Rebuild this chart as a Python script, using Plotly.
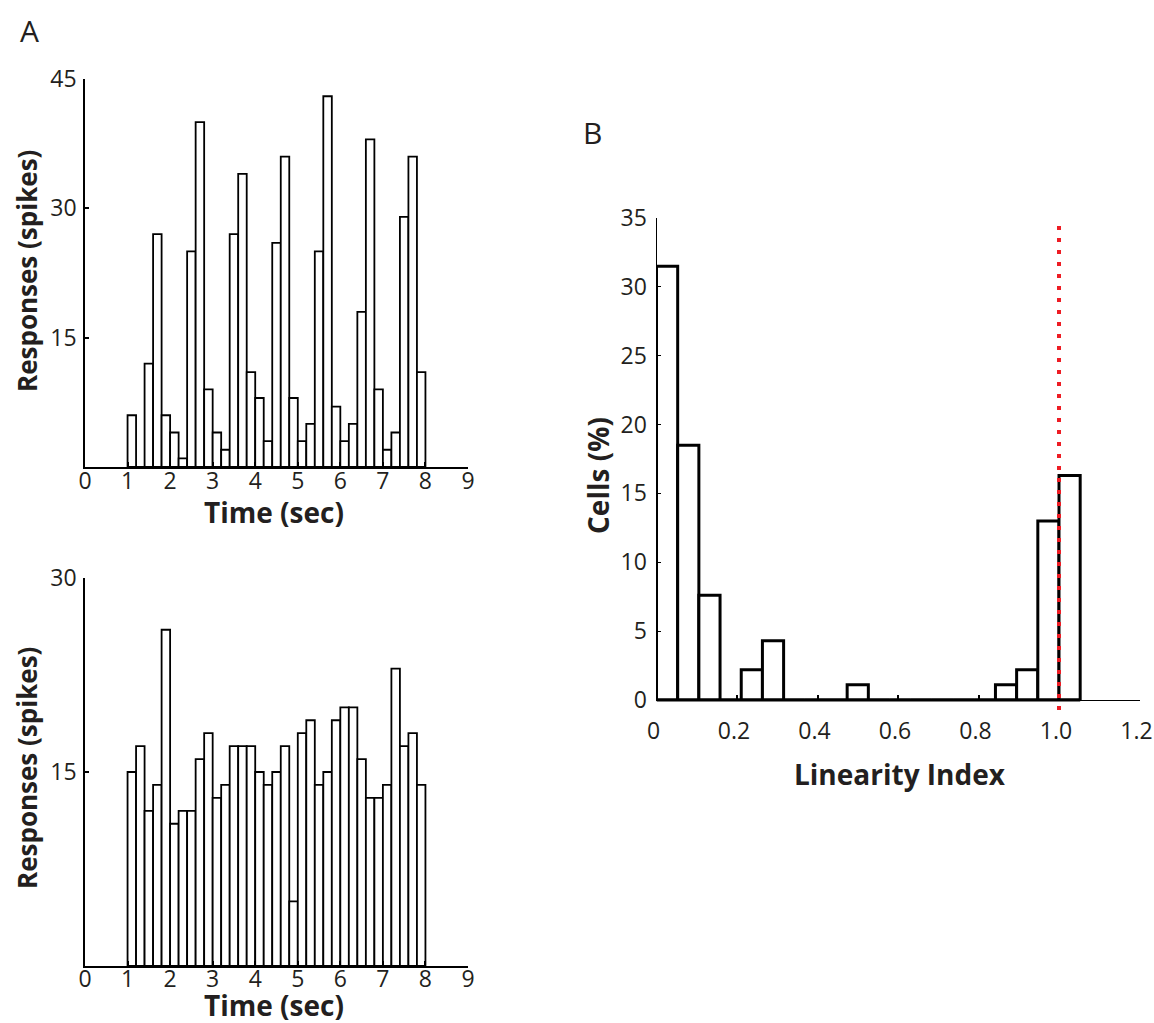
import numpy as np
import plotly.graph_objects as go

# ---------------- data ----------------
# Panel A: spike counts in 0.2-s bins from 1 s to 8 s
time_bin_start = 1.0
time_bin_width = 0.2
counts_top = [6, 0, 12, 27, 6, 4, 1, 25, 40, 9,
              4, 2, 27, 34, 11, 8, 3, 26, 36, 8,
              3, 5, 25, 43, 7, 3, 5, 18, 38, 9,
              2, 4, 29, 36, 11]
counts_bottom = [15, 17, 12, 14, 26, 11, 12, 12, 16, 18,
                 13, 14, 17, 17, 17, 15, 14, 15, 17, 5,
                 18, 19, 14, 15, 19, 20, 20, 16, 13, 13,
                 14, 23, 17, 18, 14]
time_ticks = [0, 1, 2, 3, 4, 5, 6, 7, 8, 9]
top_yticks = [15, 30, 45]
bottom_yticks = [15, 30]

# Panel B: linearity index histogram (20 bins of width 1/19)
li_n_bins = 20
li_bin_width = 1.0 / 19
cells_pct = [31.5, 18.5, 7.6, 0, 2.2, 4.3, 0, 0, 0, 1.1,
             0, 0, 0, 0, 0, 0, 1.1, 2.2, 13.0, 16.3]
li_ticks = [0, 0.2, 0.4, 0.6, 0.8, 1.0, 1.2]
li_ticktext = ["0", "0.2", "0.4", "0.6", "0.8", "1.0", "1.2"]
cells_ticks = [0, 5, 10, 15, 20, 25, 30, 35]
ref_line_x = 1.0

# ---------------- geometry ----------------
W, H = 1154, 1023
TXT = "#231f20"
FONT = "Open Sans"


def xdom(a, b):
    return [a / W, b / W]


def ydom(top, bottom):
    return [1 - bottom / H, 1 - top / H]


t_edges = time_bin_start + time_bin_width * np.arange(len(counts_top) + 1)
t_centers = (t_edges[:-1] + t_edges[1:]) / 2
li_edges = li_bin_width * np.arange(li_n_bins + 1)
li_centers = (li_edges[:-1] + li_edges[1:]) / 2

fig = go.Figure()

bar_style = dict(color="white", line=dict(color="black", width=1.8))
fig.add_trace(go.Bar(x=t_centers, y=counts_top, width=time_bin_width,
                     marker=bar_style, xaxis="x", yaxis="y",
                     cliponaxis=False, showlegend=False, hoverinfo="skip"))
fig.add_trace(go.Bar(x=t_centers, y=counts_bottom, width=time_bin_width,
                     marker=bar_style, xaxis="x2", yaxis="y2",
                     cliponaxis=False, showlegend=False, hoverinfo="skip"))
fig.add_trace(go.Bar(x=li_centers, y=cells_pct, width=li_bin_width,
                     marker=dict(color="white", line=dict(color="black", width=3)),
                     xaxis="x3", yaxis="y3",
                     cliponaxis=False, showlegend=False, hoverinfo="skip"))

# overlay subplot (same scale as panel B, extends a bit below the axis)
b_top, b_bot = 218, 700
px_per_unit = (b_bot - b_top) / cells_ticks[-1]
ov_bot = 710
ov_min = -(ov_bot - b_bot) / px_per_unit
fig.add_trace(go.Scatter(x=[li_edges[0], li_edges[-1]], y=[0, 0], mode="lines",
                         line=dict(color="black", width=3),
                         xaxis="x4", yaxis="y4", showlegend=False, hoverinfo="skip"))
fig.add_trace(go.Scatter(x=[ref_line_x, ref_line_x], y=[ov_min, cells_ticks[-1]],
                         mode="lines",
                         line=dict(color="#ed1c24", width=4, dash="4px,8px"),
                         xaxis="x4", yaxis="y4", showlegend=False, hoverinfo="skip"))

tickfont = dict(family=FONT, size=23, color=TXT)
common_x = dict(showline=True, linecolor="black", ticks="inside", ticklen=5,
                tickcolor="black", showgrid=False, zeroline=False, tickfont=tickfont,
                automargin=False, ticklabeloverflow="allow")
common_y = dict(showline=True, linecolor="black", ticks="inside", ticklen=4,
                tickcolor="black", showgrid=False, zeroline=False, tickfont=tickfont,
                automargin=False, ticklabeloverflow="allow")

fig.update_layout(
    template="none",
    width=W, height=H, margin=dict(l=0, r=0, t=0, b=0, autoexpand=False),
    paper_bgcolor="white", plot_bgcolor="rgba(0,0,0,0)",
    showlegend=False, barmode="overlay",
    xaxis=dict(domain=xdom(85, 468), range=[0, 9], anchor="y",
               tickvals=time_ticks, linewidth=2, tickwidth=1.5,
               ticklabelstandoff=-8, **common_x),
    yaxis=dict(domain=ydom(79, 467), range=[0, 45], anchor="x",
               tickvals=top_yticks, linewidth=1.5, tickwidth=1.5,
               ticklabelstandoff=2, **common_y),
    xaxis2=dict(domain=xdom(85, 468), range=[0, 9], anchor="y2",
                tickvals=time_ticks, linewidth=2, tickwidth=1.5,
                ticklabelstandoff=-9, **common_x),
    yaxis2=dict(domain=ydom(578, 966), range=[0, 30], anchor="x2",
                tickvals=bottom_yticks, linewidth=1.5, tickwidth=1.5,
                ticklabelstandoff=2, **common_y),
    xaxis3=dict(domain=xdom(656.5, 1139.5), range=[0, 1.2], anchor="y3",
                tickvals=li_ticks, ticktext=li_ticktext, linewidth=1.2, tickwidth=1.5,
                ticklabelstandoff=10, ticklabelshift=-3, **common_x),
    yaxis3=dict(domain=ydom(b_top, b_bot), range=[0, 35], anchor="x3",
                tickvals=cells_ticks, linewidth=1.2, tickwidth=1.2,
                ticklabelstandoff=4, **common_y),
    xaxis4=dict(domain=xdom(656.5, 1139.5), range=[0, 1.2], anchor="y4",
                visible=False, fixedrange=True, automargin=False),
    yaxis4=dict(domain=ydom(b_top, ov_bot), range=[ov_min, cells_ticks[-1]],
                anchor="x4", visible=False, fixedrange=True, automargin=False),
)

title_font = dict(family=FONT, size=28, color=TXT)
resp_font = dict(family=FONT, size=26, color=TXT)


def ann(text, x, y, angle=0, font=title_font):
    fig.add_annotation(text=text, x=x / W, y=1 - y / H, xref="paper", yref="paper",
                       showarrow=False, textangle=angle, font=font,
                       xanchor="center", yanchor="middle")


ann("<b>Time (sec)</b>", 274, 512)
ann("<b>Time (sec)</b>", 274, 1005)
ann("<b>Responses (spikes)</b>", 27, 271, angle=-90, font=resp_font)
ann("<b>Responses (spikes)</b>", 27, 768, angle=-90, font=resp_font)
ann("<b>Cells (%)</b>", 598, 476, angle=-90)
ann("<b>Linearity Index</b>", 900, 774)
ann("A", 29, 31, font=dict(family=FONT, size=30, color=TXT))
ann("B", 592, 132, font=dict(family=FONT, size=30, color=TXT))

fig.write_html("out.html")
